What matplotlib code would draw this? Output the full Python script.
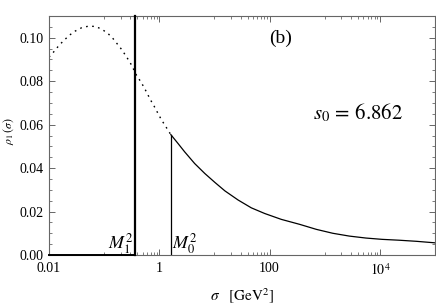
import matplotlib
matplotlib.use("Agg")
import matplotlib.pyplot as plt
from matplotlib.ticker import FixedLocator, FixedFormatter, MultipleLocator, NullFormatter

plt.rcParams['font.family'] = ['Liberation Serif', 'DejaVu Serif']
plt.rcParams['mathtext.fontset'] = 'stix'

# ---- data ----
sigma_dashed = [0.01, 0.0125, 0.0152, 0.0187, 0.0233, 0.0296, 0.0391, 0.0515, 0.070,
                0.0923, 0.119, 0.146, 0.176, 0.212, 0.248, 0.293, 0.337, 0.387, 0.457,
                0.526, 0.605, 0.70, 0.81, 0.95, 1.09, 1.29, 1.51, 1.62]
rho_dashed = [0.0911, 0.0938, 0.0965, 0.0988, 0.1011, 0.1030, 0.1046, 0.1053, 0.1052,
              0.1038, 0.1018, 0.0995, 0.0969, 0.0943, 0.0916, 0.0888, 0.0858, 0.0827, 0.0799,
              0.0773, 0.0743, 0.0712, 0.0684, 0.0651, 0.0623, 0.0594, 0.0566, 0.0554]

sigma_solid = [1.62, 2.19, 2.88, 4.38, 6.7, 10.2, 15.5, 26.9, 46.7, 81.6, 163, 352,
               705, 1400, 2800, 5600, 11000, 22500, 46000, 100000]
rho_solid = [0.0554, 0.0513, 0.0475, 0.0421, 0.0375, 0.0334, 0.0295, 0.0253, 0.0217,
             0.0191, 0.0164, 0.0141, 0.0118, 0.0100, 0.0087, 0.0078, 0.0072, 0.0068,
             0.0063, 0.0056]

M1_sq = 0.365
M0_sq = 1.62
rho_at_M0 = 0.0554
s0_value = "6.862"

x_major = [0.01, 1, 100, 1e4]
x_major_labels = ["0.01", "1", "100", r"$10^4$"]
x_minor = [m * 10.0 ** k for k in (-1, 1, 3) for m in range(1, 10)]
y_major = [0.00, 0.02, 0.04, 0.06, 0.08, 0.10]

# ---- figure ----
fig = plt.figure(figsize=(4.36, 3.07), dpi=100)
ax = fig.add_axes([49 / 436, 1 - 255 / 307, 386 / 436, 239 / 307])

ax.plot(sigma_dashed, rho_dashed, color='black', lw=1.0, linestyle=(0, (1.2, 3.2)))
ax.plot(sigma_solid, rho_solid, color='black', lw=0.9)
ax.plot([0.01, M1_sq], [0, 0], color='black', lw=1.4, clip_on=False, zorder=3)
ax.plot([M1_sq, M1_sq], [0, 0.11], color='black', lw=1.6, clip_on=False, zorder=3)
ax.plot([M0_sq, M0_sq], [0, rho_at_M0], color='black', lw=0.9)

ax.set_xscale('log')
ax.set_xlim(0.01, 1e5)
ax.set_ylim(0, 0.11)

ax.xaxis.set_major_locator(FixedLocator(x_major))
ax.xaxis.set_major_formatter(FixedFormatter(x_major_labels))
ax.xaxis.set_minor_locator(FixedLocator(x_minor))
ax.xaxis.set_minor_formatter(NullFormatter())
ax.yaxis.set_major_locator(FixedLocator(y_major))
ax.yaxis.set_major_formatter(FixedFormatter([f"{v:.2f}" for v in y_major]))
ax.yaxis.set_minor_locator(MultipleLocator(0.005))

spine_color = '#666666'
for s in ax.spines.values():
    s.set_color(spine_color)
    s.set_linewidth(0.8)
ax.tick_params(which='both', direction='in', top=True, right=True, color=spine_color,
               labelsize=10, labelcolor='black')
ax.tick_params(which='major', length=4, width=0.7)
ax.tick_params(which='minor', length=2.3, width=0.6)
ax.tick_params(axis='x', pad=5)
ax.tick_params(axis='y', pad=4)

ax.set_xlabel(r'$\sigma\ \ \ [\mathrm{GeV}^2]$', fontsize=11, labelpad=6)
ax.set_ylabel(r'$\rho_1\,(\sigma)$', fontsize=8.5)
ax.yaxis.set_label_coords(-0.085, 0.52)

ax.text(0.6, 0.905, '(b)', transform=ax.transAxes, fontsize=14, ha='center', va='center')
ax.text(0.8, 0.595, r'$s_0\,=\,' + s0_value + '$', transform=ax.transAxes, fontsize=15,
        ha='center', va='center')
ax.annotate(r'$M_1^2$', xy=(M1_sq, 0.0028), xytext=(-1, 0), textcoords='offset points',
            ha='right', va='baseline', fontsize=13)
ax.annotate(r'$M_0^2$', xy=(M0_sq, 0.0028), xytext=(1, 0), textcoords='offset points',
            ha='left', va='baseline', fontsize=13)

fig.savefig('out.png', dpi=100)
